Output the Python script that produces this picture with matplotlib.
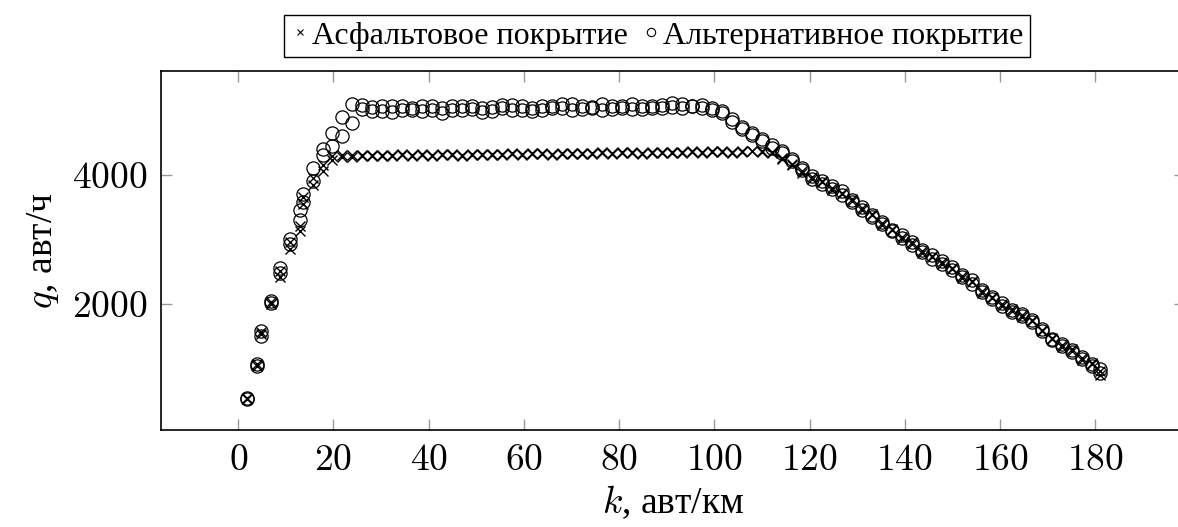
import matplotlib
matplotlib.use('Agg')
import matplotlib.pyplot as plt
from matplotlib.lines import Line2D
from matplotlib.ticker import FuncFormatter

plt.rcParams['font.family'] = ['Liberation Serif', 'DejaVu Serif']
plt.rcParams['mathtext.fontset'] = 'cm'

# density, veh/km
k = [1.8, 3.9, 4.8, 6.8, 8.8, 10.8, 12.9, 13.7, 15.8, 17.8, 19.7, 21.8, 23.9,
     26.0, 28.1, 30.2, 32.3, 34.4, 36.5, 38.6, 40.7, 42.8, 44.9, 47.0, 49.1,
     51.2, 53.3, 55.4, 57.5, 59.6, 61.7, 63.8, 65.9, 68.0, 70.1, 72.2, 74.3,
     76.4, 78.5, 80.6, 82.7, 84.8, 86.9, 89.0, 91.1, 93.2, 95.3, 97.4, 99.5,
     101.6, 103.7, 105.8, 107.9, 110.0,
     112.1, 114.2, 116.3, 118.4, 120.5, 122.6, 124.7, 126.8, 128.9, 131.0,
     133.1, 135.2, 137.3, 139.4, 141.5, 143.6, 145.7, 147.8, 149.9, 152.0,
     154.1, 156.2, 158.3, 160.4, 162.5, 164.6, 166.7, 168.8, 170.9, 173.0,
     175.1, 177.2, 179.3, 180.9]

# asphalt, two runs
q_asph_a = [530, 1040, 1530, 1990, 2420, 2850, 3120, 3550, 3840, 4050, 4230, 4270, 4280,
            4290, 4300, 4295, 4305, 4300, 4310, 4300, 4305, 4315, 4305, 4310, 4320,
            4310, 4315, 4325, 4315, 4320, 4330, 4320, 4325, 4335, 4325, 4330, 4340,
            4330, 4335, 4345, 4335, 4340, 4350, 4340, 4345, 4355, 4345, 4350, 4360,
            4350, 4355, 4365, 4360, 4365,
            4330, 4260, 4150, 4060, 3960, 3880, 3800, 3720, 3590, 3480, 3370, 3250,
            3140, 3040, 2930, 2810, 2720, 2640, 2540, 2430, 2330, 2200, 2090, 1990,
            1890, 1820, 1730, 1590, 1450, 1360, 1270, 1160, 1060, 950]
q_asph_b = [545, 1060, 1560, 2020, 2500, 2950, 3200, 3650, 3950, 4150, 4290, 4300, 4300,
            4305, 4285, 4310, 4290, 4315, 4295, 4315, 4290, 4300, 4320, 4295, 4305,
            4325, 4300, 4310, 4330, 4305, 4315, 4335, 4310, 4320, 4340, 4315, 4325,
            4345, 4320, 4330, 4350, 4325, 4335, 4355, 4330, 4340, 4360, 4335, 4345,
            4365, 4340, 4350, 4370, 4350,
            4350, 4240, 4170, 4030, 3930, 3900, 3770, 3700, 3620, 3450, 3390, 3220,
            3160, 3010, 2950, 2790, 2740, 2610, 2560, 2400, 2350, 2170, 2110, 1960,
            1910, 1790, 1750, 1570, 1470, 1330, 1290, 1130, 1080, 900]

# alternative surface, two runs
q_alt_a = [540, 1070, 1580, 2040, 2480, 2920, 3300, 3580, 3900, 4300, 4450, 4600, 4800,
           5020, 5050, 4990, 5060, 5010, 5040, 4980, 5070, 5030, 5000, 5060, 5020,
           4970, 5050, 5030, 5080, 5010, 5040, 5000, 5060, 5030, 5090, 5020, 5050,
           5010, 5070, 5040, 5020, 5060, 5030, 5080, 5050, 5100, 5060, 5080,
           5040, 4990, 4810, 4710, 4610, 4530,
           4460, 4370, 4240, 4100, 3980, 3860, 3820, 3740, 3570, 3500, 3350, 3270,
           3120, 3060, 2910, 2830, 2700, 2660, 2520, 2450, 2310, 2220, 2070, 2010,
           1870, 1840, 1710, 1610, 1430, 1380, 1250, 1180, 1040, 980]
q_alt_b = [520, 1030, 1500, 2010, 2560, 3000, 3450, 3700, 4100, 4400, 4650, 4900, 5100,
           5080, 4990, 5060, 4970, 5070, 5000, 5060, 5010, 4960, 5070, 5010, 5060,
           5040, 4990, 5080, 5010, 5060, 4990, 5070, 5030, 5100, 5000, 5060, 5030,
           5090, 5020, 5060, 5100, 5020, 5070, 5040, 5110, 5040, 5070, 5040,
           5010, 4950, 4860, 4740, 4640, 4560,
           4420, 4330, 4220, 4070, 3940, 3910, 3780, 3680, 3610, 3460, 3380, 3230,
           3150, 3020, 2960, 2800, 2760, 2620, 2570, 2410, 2360, 2180, 2100, 1970,
           1900, 1810, 1740, 1580, 1460, 1350, 1280, 1150, 1070, 920]

xticks = [0, 20, 40, 60, 80, 100, 120, 140, 160, 180]
yticks = [2000, 4000]

fig = plt.figure(figsize=(11.78, 5.27), dpi=100)
ax = fig.add_axes([0.1367, 0.1841, 0.8695, 0.6812])

for q in (q_asph_a, q_asph_b):
    ax.plot(k, q, ls='none', marker='x', ms=7, mew=1.0, color='black')
for q in (q_alt_a, q_alt_b):
    ax.plot(k, q, ls='none', marker='o', ms=9.5, mew=0.9, mfc='none', mec='black')

ax.set_xlim(-16.2, 198.9)
ax.set_ylim(42, 5608)
ax.set_xticks(xticks)
ax.set_yticks(yticks)
fmt = FuncFormatter(lambda v, p: f'${v:.0f}$')
ax.xaxis.set_major_formatter(fmt)
ax.yaxis.set_major_formatter(fmt)
ax.tick_params(direction='in', length=8, width=1, color='#999999',
               top=True, right=True, labelsize=27)
ax.tick_params(axis='x', pad=10)
ax.tick_params(axis='y', pad=10)
for s in ax.spines.values():
    s.set_linewidth(1.2)

ax.set_xlabel('$k$, авт/км', fontsize=27, labelpad=4)
ax.set_ylabel('$q$, авт/ч', fontsize=27, labelpad=8)

handles = [Line2D([], [], ls='none', marker='x', ms=5, mew=0.8, color='black'),
           Line2D([], [], ls='none', marker='o', ms=6, mew=0.8, mfc='none', mec='black')]
fig.legend(handles, ['Асфальтовое покрытие', 'Альтернативное покрытие'],
           loc='center', bbox_to_anchor=(0.5577, 0.9317), ncol=2, fontsize=23,
           frameon=True, fancybox=False, edgecolor='black', framealpha=1,
           handlelength=0.6, handletextpad=0.1, columnspacing=0.4,
           borderpad=0.2, borderaxespad=0)

fig.savefig('out.png', dpi=100)
